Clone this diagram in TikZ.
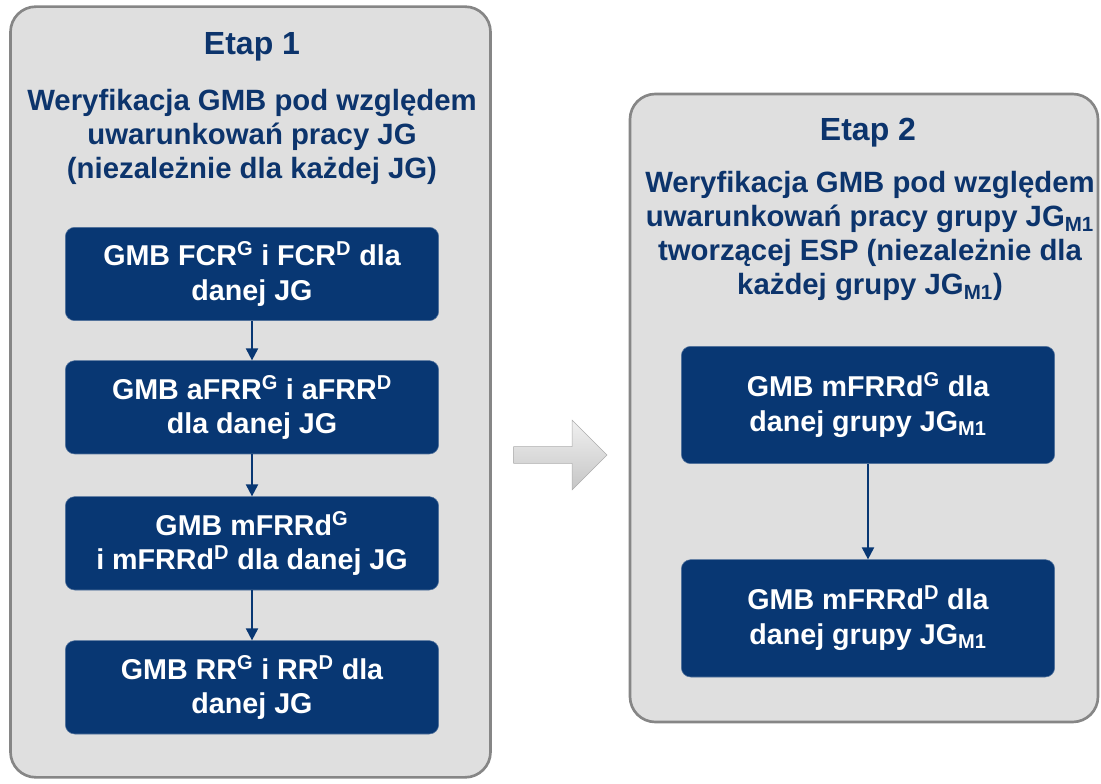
\documentclass[tikz,border=0pt]{standalone}
\usepackage{fontspec}
\setmainfont{Liberation Sans}
\usetikzlibrary{arrows,arrows.meta,positioning,shapes.arrows}
\definecolor{boxblue}{RGB}{8,55,115}
\definecolor{titleblue}{RGB}{12,52,108}
\tikzstyle{panel} = [rectangle, rounded corners=19pt, draw=gray!95, line width=2pt, fill=gray!25]
\tikzstyle{title} = [text=titleblue, font=\fontsize{24}{28}\selectfont\bfseries]
\tikzstyle{desc} = [text=titleblue, align=center, font=\fontsize{22}{25.5}\selectfont\bfseries]
\tikzstyle{process} = [rectangle, rounded corners=7pt, minimum width=280pt, minimum height=70pt, text centered, align=center, text=white, fill=boxblue, draw=boxblue!70!white, font=\fontsize{21.5}{26}\selectfont\bfseries]
\tikzstyle{arrow} = [line width=1.5pt,-{Triangle[length=9pt,width=9pt]}, draw=boxblue]
\tikzstyle{next} = [single arrow, minimum width=52pt, minimum height=70pt, single arrow head extend=11pt, top color=gray!12, bottom color=gray!45, draw=gray!65]

\begin{document}
\begin{tikzpicture}[x=0.75pt, y=-0.75pt, node distance=100pt]
\useasboundingbox (0,0) rectangle (1101,784);

% etap 1
\node (panel1) [panel, minimum width=360pt, minimum height=578pt] at (250.5,392) {};
\node (etap1) [title] at (252,47) {Etap 1};
\node (desc1) [desc] at (252,137) {Weryfikacja GMB pod względem\\uwarunkowań pracy JG\\(niezależnie dla każdej JG)};

\node (fcr) [process] at (252,274) {GMB FCR\textsuperscript{G} i FCR\textsuperscript{D} dla\\danej JG};
\node (afrr) [process, below of=fcr] {GMB aFRR\textsuperscript{G} i aFRR\textsuperscript{D}\\dla danej JG};
\node (mfrr) [process, below of=afrr, yshift=-2pt] {GMB mFRRd\textsuperscript{G}\\i mFRRd\textsuperscript{D} dla danej JG};
\node (rr) [process, below of=mfrr, yshift=-8pt] {GMB RR\textsuperscript{G} i RR\textsuperscript{D} dla\\danej JG};
\draw [arrow] (fcr) -- (afrr);
\draw [arrow] (afrr) -- (mfrr);
\draw [arrow] (mfrr) -- (rr);

% strzalka
\node (strz) [next] at (556,455) {};

% etap 2
\node (panel2) [panel, minimum width=351pt, minimum height=471pt] at (864,408) {};
\node (etap2) [title] at (868,133) {Etap 2};
\node (desc2) [desc] at (870,236) {Weryfikacja GMB pod względem\\uwarunkowań pracy grupy JG\textsubscript{M1}\\tworzącej ESP (niezależnie dla\\każdej grupy JG\textsubscript{M1})};

\node (mfrrg) [process, minimum height=88pt] at (868,405) {GMB mFRRd\textsuperscript{G} dla\\danej grupy JG\textsubscript{M1}};
\node (mfrrd) [process, minimum height=88pt, below of=mfrrg, yshift=-60pt] {GMB mFRRd\textsuperscript{D} dla\\danej grupy JG\textsubscript{M1}};
\draw [arrow] (mfrrg) -- (mfrrd);

\end{tikzpicture}
\end{document}
